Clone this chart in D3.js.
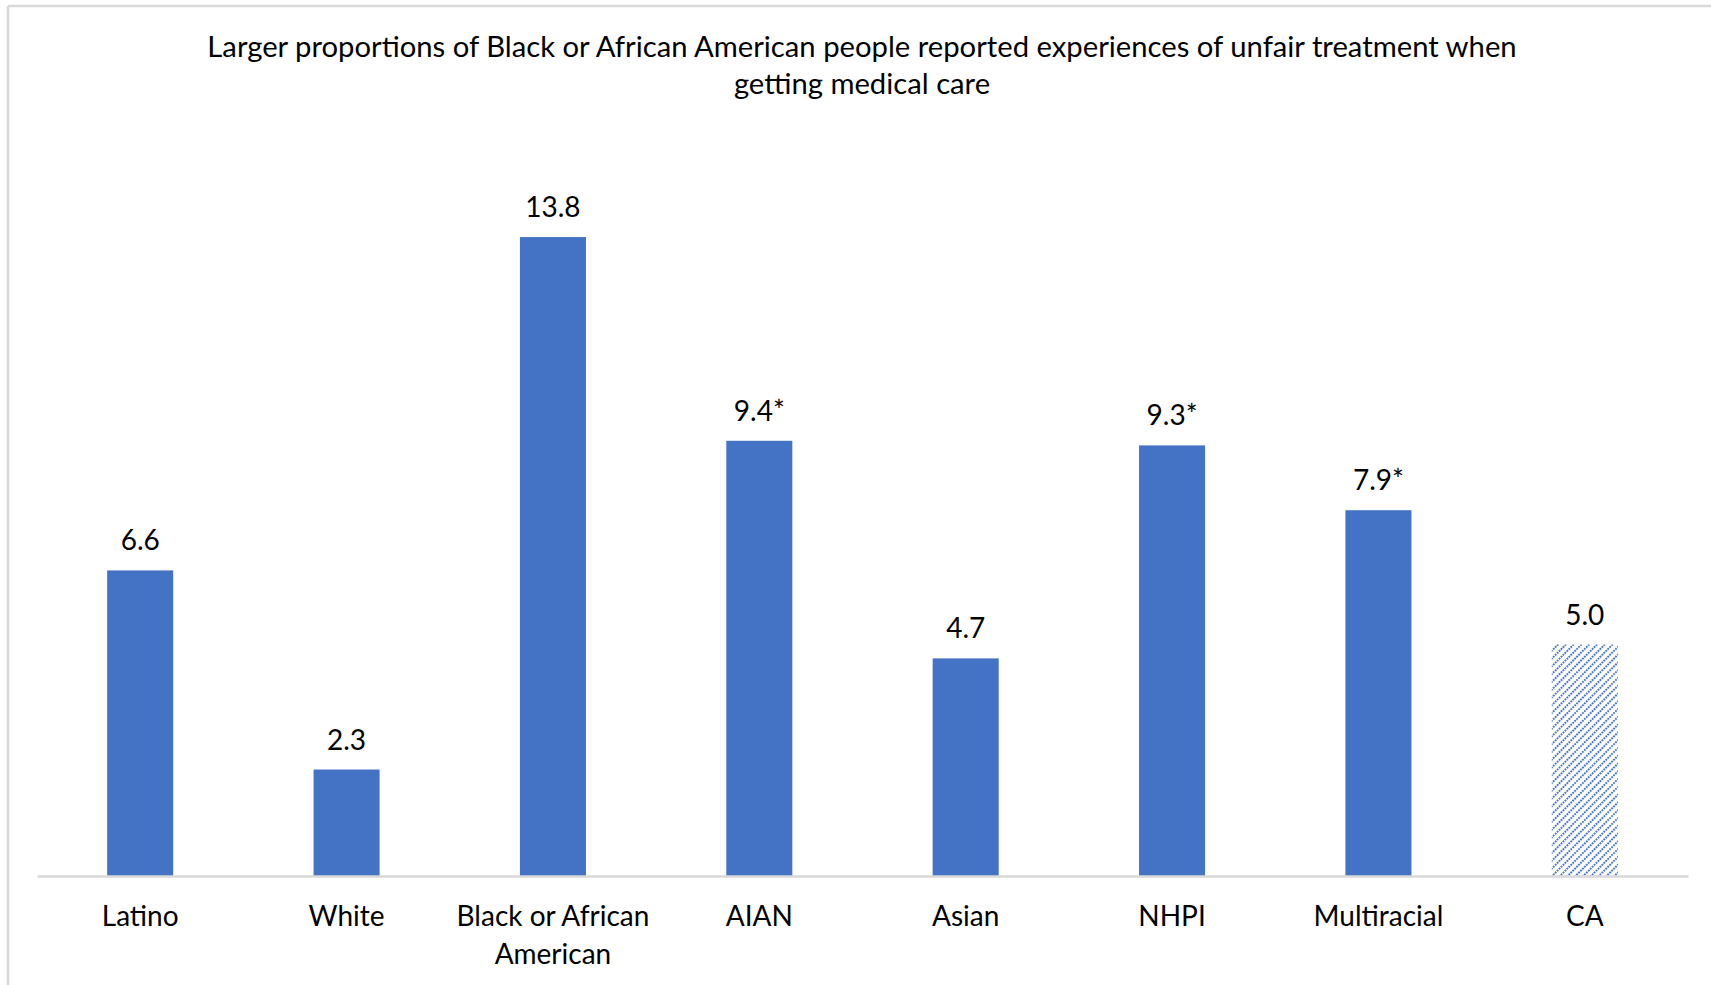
<!DOCTYPE html>
<html><head><meta charset="utf-8">
<script src="https://cdn.jsdelivr.net/npm/d3@7"></script>
<style>
html,body{margin:0;padding:0;background:#fff;}
svg{display:block;}
text{font-family:Lato,"Open Sans",sans-serif;fill:#000;}
</style></head>
<body>
<svg id="chart" width="1711" height="985"></svg>
<script>
const categories = ["Latino","White","Black or African American","AIAN","Asian","NHPI","Multiracial","CA"];
const categoryLines = [["Latino"],["White"],["Black or African","American"],["AIAN"],["Asian"],["NHPI"],["Multiracial"],["CA"]];
const values = [6.6, 2.3, 13.8, 9.4, 4.7, 9.3, 7.9, 5.0];
const significant = [false, false, false, true, false, true, true, false];
const isTotal = [false, false, false, false, false, false, false, true];
const titleLines = ["Larger proportions of Black or African American people reported experiences of unfair treatment when","getting medical care"];

const svg = d3.select("#chart");
const W = 1711, H = 985;
const blue = "#4472C4";

// frame
svg.append("line").attr("x1",8).attr("x2",W).attr("y1",6).attr("y2",6).attr("stroke","#d9d9d9").attr("stroke-width",2.5);
svg.append("line").attr("x1",8).attr("x2",8).attr("y1",6).attr("y2",H).attr("stroke","#d9d9d9").attr("stroke-width",2.5);

// pattern
const defs = svg.append("defs");
const pat = defs.append("pattern").attr("id","hatch").attr("patternUnits","userSpaceOnUse")
  .attr("width",5.5).attr("height",5.5).attr("patternTransform","rotate(45)");
pat.append("line").attr("x1",1).attr("y1",0).attr("x2",1).attr("y2",5.5)
  .attr("stroke",blue).attr("stroke-width",1.9).attr("stroke-dasharray","1.9 0.85");

const x = d3.scaleBand().domain(categories).range([37,1688]).paddingInner(0.68).paddingOuter(0.34);
const y = d3.scaleLinear().domain([0,14]).range([876, 876 - 14*46.3]);

// title
const title = svg.append("g");
titleLines.forEach((t,i)=>{
  title.append("text").attr("x",862).attr("y",57+i*36.5).attr("text-anchor","middle")
    .attr("font-size",24).text(t);
});
const t0 = title.select("text").node();
const w0 = t0.getComputedTextLength();
const fs = 24*1310/w0;
title.selectAll("text").attr("font-size",fs);

// bars
svg.selectAll("rect.bar").data(categories).join("rect").attr("class","bar")
  .attr("x",d=>x(d)).attr("width",x.bandwidth())
  .attr("y",(d,i)=>y(values[i])).attr("height",(d,i)=>y(0)-y(values[i]))
  .attr("fill",(d,i)=>isTotal[i]?"url(#hatch)":blue);

// axis
const xAxis = d3.axisBottom(x).tickSize(0).tickFormat("");
const ax = svg.append("g").attr("transform",`translate(0,${y(0)})`).call(xAxis);
ax.select(".domain").attr("stroke","#d9d9d9").attr("stroke-width",2.5);

// value labels
svg.selectAll("text.val").data(categories).join("text").attr("class","val")
  .attr("x",d=>x(d)+x.bandwidth()/2).attr("y",(d,i)=>y(values[i])-20)
  .attr("text-anchor","middle").attr("font-size",28)
  .text((d,i)=>values[i].toFixed(1)+(significant[i]?"*":""));

// category labels
categories.forEach((c,i)=>{
  const t = svg.append("text").attr("text-anchor","middle").attr("font-size",28)
    .attr("x",x(c)+x.bandwidth()/2).attr("y",926);
  categoryLines[i].forEach((l,j)=>{
    t.append("tspan").attr("x",x(c)+x.bandwidth()/2).attr("dy",j?38:0).text(l);
  });
});
</script>
</body></html>
